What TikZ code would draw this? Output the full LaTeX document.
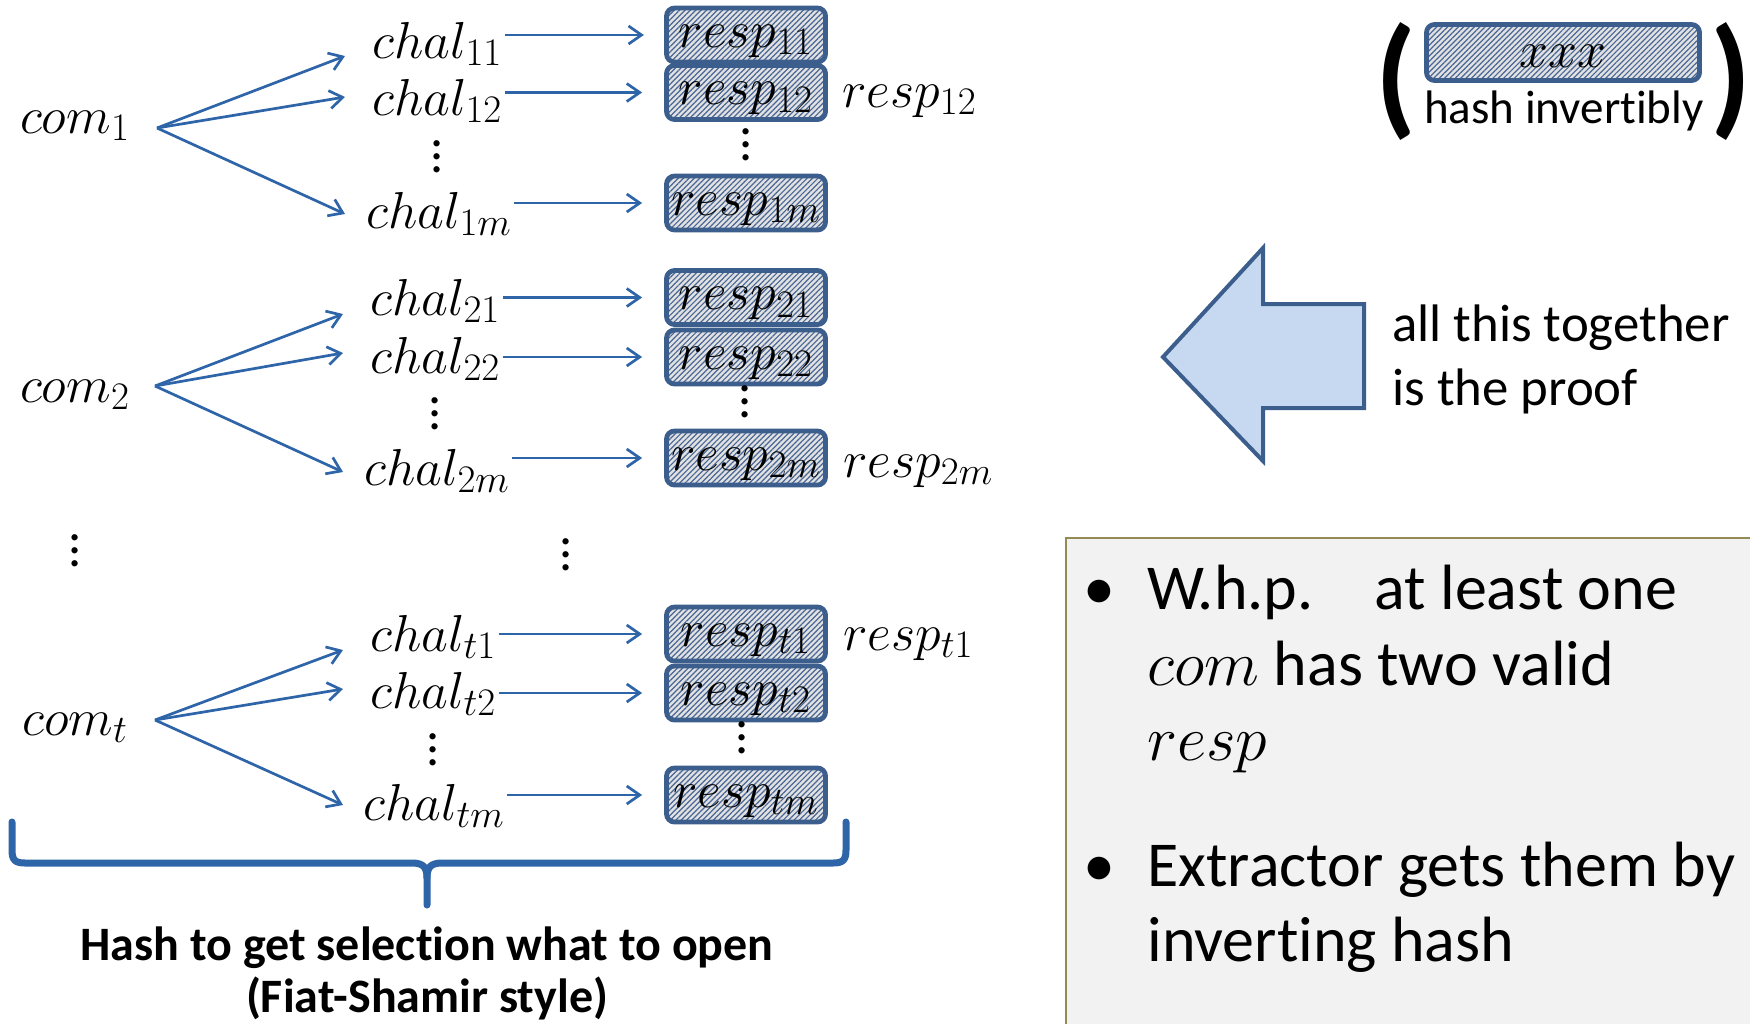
\documentclass[tikz,border=0pt]{standalone}
\usepackage{fix-cm}
\usepackage[no-math]{fontspec}
\setmainfont{Carlito}[Ligatures=NoCommon]
\usetikzlibrary{arrows.meta,patterns.meta,calc}
\DeclareMathSizes{26}{26}{19.5}{15}

\definecolor{linkblue}{RGB}{46,100,168}
\definecolor{boxedge}{RGB}{60,94,140}
\definecolor{hatchline}{RGB}{72,102,150}
\definecolor{hatchbg}{RGB}{226,226,226}
\definecolor{arrowfill}{RGB}{198,217,241}
\definecolor{notefill}{RGB}{242,242,242}
\definecolor{noteedge}{RGB}{148,138,84}

% three stacked dots with a fixed pitch
\newcommand{\stackdots}{\vbox{\baselineskip=6.5pt\lineskiplimit=-20pt\hbox{.}\hbox{.}\hbox{.}}}

\tikzset{
  lbl/.style={inner sep=0pt, font=\fontsize{26}{30}\selectfont},
  respbox/.style={draw=boxedge, line width=2.4pt, rounded corners=4pt,
    minimum width=79.5pt, minimum height=27pt, inner sep=0pt,
    text height=13.5pt, text depth=1.5pt,
    preaction={fill=hatchbg},
    pattern={Lines[angle=45,distance=1.9pt,line width=0.6pt]},
    pattern color=hatchline,
    font=\fontsize{26}{30}\selectfont},
  flow/.style={draw=linkblue, line width=1.35pt,
    -{Straight Barb[length=6.5pt,width=9pt]}},
  feed/.style={flow, shorten <=1pt, shorten >=11pt},
  brace/.style={draw=linkblue, line width=3.5pt, line cap=round, line join=round},
  note/.style={inner sep=0pt, font=\fontsize{32}{38}\selectfont},
  side/.style={inner sep=0pt, font=\fontsize{26.4}{32}\selectfont},
  caption/.style={inner sep=0pt, font=\fontsize{24}{27}\selectfont\bfseries},
  paren/.style={inner sep=0pt, font=\fontsize{66}{66}\selectfont\bfseries},
}

\begin{document}
\begin{tikzpicture}[x=0.5pt,y=-0.5pt]
\useasboundingbox (0,0) rectangle (1750,1023);
\clip (0,0) rectangle (1750,1023);

% ---------- first commitment ----------
\node[lbl, anchor=base] (com1) at (75,133) {$com_1$};
\node[lbl, anchor=base west] (c11) at (372,58) {$chal_{11}$};
\node[lbl, anchor=base west] (c12) at (372,115) {$chal_{12}$};
\node[lbl] (c1d) at (437,157) {\stackdots};
\node[lbl, anchor=base west] (c1m) at (366,228) {$chal_{1m}$};
\node[respbox] (r11) at (746,35) {$resp_{11}$};
\node[respbox] (r12) at (746,92.5) {$resp_{12}$};
\node[lbl] (r1d) at (746,145) {\stackdots};
\node[respbox] (r1m) at (746,203) {$resp_{1m}$};
\node[lbl, anchor=base west] (x12) at (842,107) {$resp_{12}$};
\coordinate (o1) at (157,128);
\draw[flow] (o1) -- ($(c11.base west)+(-27,-2)$);
\draw[flow] (o1) -- ($(c12.base west)+(-27,-18)$);
\draw[flow] (o1) -- ($(c1m.base west)+(-21,-14)$);
\draw[feed] (c11.east |- r11.west) -- (r11.west);
\draw[feed] (c12.east |- r12.west) -- (r12.west);
\draw[feed] (c1m.east |- r1m.west) -- (r1m.west);

% ---------- second commitment ----------
\node[lbl, anchor=base] (com2) at (75,402) {$com_2$};
\node[lbl, anchor=base west] (c21) at (370,315) {$chal_{21}$};
\node[lbl, anchor=base west] (c22) at (370,373) {$chal_{22}$};
\node[lbl] (c2d) at (435,414) {\stackdots};
\node[lbl, anchor=base west] (c2m) at (364,485) {$chal_{2m}$};
\node[respbox] (r21) at (746,297.5) {$resp_{21}$};
\node[respbox] (r22) at (746,357) {$resp_{22}$};
\node[lbl] (r2d) at (745,402) {\stackdots};
\node[respbox] (r2m) at (746,458) {$resp_{2m}$};
\node[lbl, anchor=base west] (x2m) at (843,477) {$resp_{2m}$};
\coordinate (o2) at (155,386);
\draw[flow] (o2) -- ($(c21.base west)+(-27,-1)$);
\draw[flow] (o2) -- ($(c22.base west)+(-27,-20)$);
\draw[flow] (o2) -- ($(c2m.base west)+(-21,-13)$);
\draw[feed] (c21.east |- r21.west) -- (r21.west);
\draw[feed] (c22.east |- r22.west) -- (r22.west);
\draw[feed] (c2m.east |- r2m.west) -- (r2m.west);

% ---------- gap between the groups ----------
\node[lbl] (gapl) at (75,551) {\stackdots};
\node[lbl] (gapm) at (566,555) {\stackdots};

% ---------- last commitment ----------
\node[lbl, anchor=base] (comt) at (75,735) {$com_t$};
\node[lbl, anchor=base west] (ct1) at (370,651) {$chal_{t1}$};
\node[lbl, anchor=base west] (ct2) at (370,708) {$chal_{t2}$};
\node[lbl] (ctd) at (433,750) {\stackdots};
\node[lbl, anchor=base west] (ctm) at (363,820) {$chal_{tm}$};
\node[respbox] (rt1) at (746,634) {$resp_{t1}$};
\node[respbox] (rt2) at (746,693) {$resp_{t2}$};
\node[lbl] (rtd) at (742,738) {\stackdots};
\node[respbox] (rtm) at (746,795) {$resp_{tm}$};
\node[lbl, anchor=base west] (xt1) at (843,650) {$resp_{t1}$};
\coordinate (ot) at (155,720);
\draw[flow] (ot) -- ($(ct1.base west)+(-27,-1)$);
\draw[flow] (ot) -- ($(ct2.base west)+(-27,-19)$);
\draw[flow] (ot) -- ($(ctm.base west)+(-20,-15)$);
\draw[feed] (ct1.east |- rt1.west) -- (rt1.west);
\draw[feed] (ct2.east |- rt2.west) -- (rt2.west);
\draw[feed] (ctm.east |- rtm.west) -- (rtm.west);

% ---------- brace and caption ----------
\draw[brace] (12,822) -- (12,850) .. controls (12,860) and (15,863) .. (25,863)
  -- (412,863) .. controls (423,863) and (427,867) .. (427,878) -- (427,905);
\draw[brace] (846,822) -- (846,850) .. controls (846,860) and (843,863) .. (833,863)
  -- (442,863) .. controls (431,863) and (427,867) .. (427,878);
\node[caption, anchor=base] (cap1) at (427,960) {Hash to get selection what to open};
\node[caption, anchor=base] (cap2) at (427,1012) {(Fiat-Shamir style)};

% ---------- legend: hatched box means hashed invertibly ----------
\node[paren] (lp) at (1396,82) {(};
\node[paren] (rp) at (1731,82) {)};
\node[respbox, minimum width=136.5pt, minimum height=28pt,
      text height=15pt, text depth=0pt] (xxx) at (1563,52.5) {$xxx$};
\node[inner sep=0pt, font=\fontsize{23.5}{28}\selectfont, anchor=base] (hinv)
  at (1564,123) {hash invertibly};

% ---------- block arrow ----------
\draw[fill=arrowfill, draw=boxedge, line width=2pt]
  (1163,357) -- (1263,248) -- (1263,304) -- (1364,304) -- (1364,408)
  -- (1263,408) -- (1263,461) -- cycle;
\node[side, anchor=base west] (s1) at (1392,341) {all this together};
\node[side, anchor=base west] (s2) at (1392,405) {is the proof};

% ---------- note box ----------
\draw[fill=notefill, draw=noteedge, line width=1pt] (1066,538) rectangle (1765,1040);
\node[note, anchor=base] (bul1) at (1099,609) {•};
\node[note, anchor=base west] (n1) at (1147,609) {W.h.p.\hspace{30.5pt}at least one};
\node[note, anchor=base west] (n2) at (1147,685) {$com$ has two valid};
\node[note, anchor=base west] (n3) at (1147,760) {$resp$};
\node[note, anchor=base] (bul2) at (1099,886) {•};
\node[note, anchor=base west] (n4) at (1147,886) {Extractor gets them by};
\node[note, anchor=base west] (n5) at (1147,961) {inverting hash};
\end{tikzpicture}
\end{document}
